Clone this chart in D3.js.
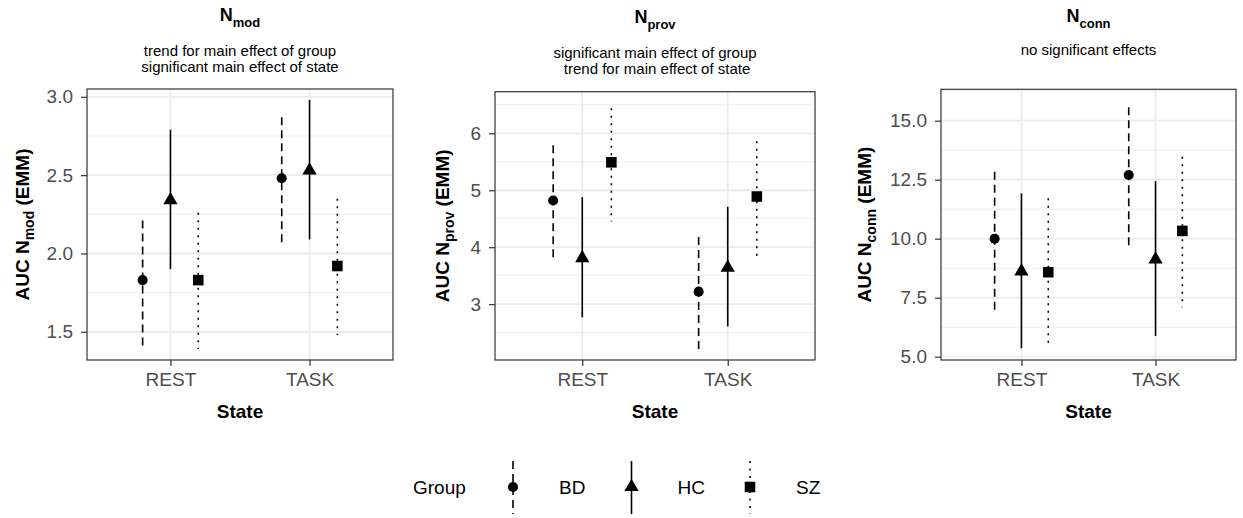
<!DOCTYPE html>
<html>
<head>
<meta charset="utf-8">
<script src="https://cdn.jsdelivr.net/npm/d3@7"></script>
<style>
  html, body { margin: 0; padding: 0; background: #ffffff; }
  svg { display: block; }
  text { font-family: "Liberation Sans", Arial, Helvetica, sans-serif; }
</style>
</head>
<body>
<svg id="chart" width="1243" height="518"></svg>
<script>
// ---------------- data ----------------
const states = ["REST", "TASK"];
const groups = ["BD", "HC", "SZ"];
// order of rows: REST-BD, REST-HC, REST-SZ, TASK-BD, TASK-HC, TASK-SZ
const nmodEmm   = [1.83, 2.34, 1.83, 2.48, 2.53, 1.92];
const nmodLower = [1.40, 1.90, 1.39, 2.05, 2.09, 1.48];
const nmodUpper = [2.21, 2.79, 2.26, 2.87, 2.98, 2.35];

const nprovEmm   = [4.82, 3.81, 5.49, 3.22, 3.64, 4.89];
const nprovLower = [3.82, 2.77, 4.45, 2.21, 2.61, 3.85];
const nprovUpper = [5.79, 4.88, 6.44, 4.18, 4.71, 5.86];

const nconnEmm   = [10.00, 8.62, 8.58, 12.70, 9.12, 10.33];
const nconnLower = [6.86, 5.36, 5.36, 9.59, 5.88, 7.09];
const nconnUpper = [12.84, 11.92, 11.71, 15.57, 12.44, 13.47];

const nmodTicks  = [1.5, 2.0, 2.5, 3.0];
const nprovTicks = [3, 4, 5, 6];
const nconnTicks = [5.0, 7.5, 10.0, 12.5, 15.0];

const panelSubs = ["mod", "prov", "conn"];
const subtitles = [
  ["trend for main effect of group", "significant main effect of state"],
  ["significant main effect of group", " trend for main effect of state"],
  ["no significant effects"]
];

// ---------------- layout / style ----------------
const panels = [
  { sub: panelSubs[0], subtitle: subtitles[0], emm: nmodEmm, lo: nmodLower, hi: nmodUpper,
    ticks: nmodTicks, fmt: d3.format(".1f"), domain: [1.32, 3.05],
    x0: 87, x1: 393, y0: 89, y1: 360, titleY: 21, subY: 55.5, yTitleX: 22 },
  { sub: panelSubs[1], subtitle: subtitles[1], emm: nprovEmm, lo: nprovLower, hi: nprovUpper,
    ticks: nprovTicks, fmt: d3.format("d"), domain: [2.02, 6.73],
    x0: 495, x1: 815, y0: 91.7, y1: 360, titleY: 23, subY: 58, yTitleX: 442 },
  { sub: panelSubs[2], subtitle: subtitles[2], emm: nconnEmm, lo: nconnLower, hi: nconnUpper,
    ticks: nconnTicks, fmt: d3.format(".1f"), domain: [4.86, 16.33],
    x0: 941, x1: 1236, y0: 89.3, y1: 360, titleY: 21.5, subY: 55, yTitleX: 864 }
];

const dash = { BD: "8,5", HC: null, SZ: "2,5.5" };
const shape = { BD: d3.symbolCircle, HC: d3.symbolTriangle, SZ: d3.symbolSquare };
const shapeSize = { BD: 80, HC: 88, SZ: 112 };
const gridCol = "#EBEBEB";
const axisCol = "#333333";
const tickTextCol = "#4D4D4D";

const svg = d3.select("#chart");

panels.forEach(p => {
  const g = svg.append("g");
  const y = d3.scaleLinear().domain(p.domain).range([p.y1, p.y0]);
  const x = d3.scalePoint().domain(states).range([p.x0, p.x1]).padding(0.6);
  const step = x.step();
  const dodge = d3.scalePoint().domain(groups).range([-0.2 * step, 0.2 * step]);

  // minor grid
  const minors = [];
  const tstep = p.ticks[1] - p.ticks[0];
  for (let v = p.ticks[0] - tstep / 2; v <= p.domain[1]; v += tstep) {
    if (v >= p.domain[0]) minors.push(v);
  }
  g.selectAll(".minor").data(minors).enter().append("line")
    .attr("x1", p.x0).attr("x2", p.x1)
    .attr("y1", d => y(d)).attr("y2", d => y(d))
    .attr("stroke", gridCol).attr("stroke-width", 0.9);
  // major grid
  g.selectAll(".major").data(p.ticks).enter().append("line")
    .attr("x1", p.x0).attr("x2", p.x1)
    .attr("y1", d => y(d)).attr("y2", d => y(d))
    .attr("stroke", gridCol).attr("stroke-width", 1.8);
  g.selectAll(".vmajor").data(states).enter().append("line")
    .attr("x1", d => x(d)).attr("x2", d => x(d))
    .attr("y1", p.y0).attr("y2", p.y1)
    .attr("stroke", gridCol).attr("stroke-width", 1.8);

  // data rows
  const rows = [];
  states.forEach((s, si) => groups.forEach((gr, gi) => {
    const i = si * groups.length + gi;
    rows.push({ state: s, group: gr, emm: p.emm[i], lo: p.lo[i], hi: p.hi[i] });
  }));

  g.selectAll(".err").data(rows).enter().append("line")
    .attr("x1", d => x(d.state) + dodge(d.group))
    .attr("x2", d => x(d.state) + dodge(d.group))
    .attr("y1", d => y(d.hi)).attr("y2", d => y(d.lo))
    .attr("stroke", "#000").attr("stroke-width", 1.6)
    .attr("stroke-dasharray", d => dash[d.group]);

  g.selectAll(".pt").data(rows).enter().append("path")
    .attr("d", d => d3.symbol().type(shape[d.group]).size(shapeSize[d.group])())
    .attr("transform", d => `translate(${x(d.state) + dodge(d.group)},${y(d.emm)})`)
    .attr("fill", "#000");

  // border
  g.append("rect")
    .attr("x", p.x0).attr("y", p.y0)
    .attr("width", p.x1 - p.x0).attr("height", p.y1 - p.y0)
    .attr("fill", "none").attr("stroke", axisCol).attr("stroke-width", 1.2);

  // axes
  const ya = g.append("g").attr("transform", `translate(${p.x0},0)`)
    .call(d3.axisLeft(y).tickValues(p.ticks).tickFormat(p.fmt).tickSize(6).tickPadding(8));
  ya.select(".domain").remove();
  ya.selectAll(".tick line").attr("stroke", axisCol).attr("stroke-width", 1.2);
  ya.selectAll(".tick text").attr("fill", tickTextCol)
    .style("font-size", "19px").style("font-family", "'Liberation Sans', Arial, sans-serif");

  const xa = g.append("g").attr("transform", `translate(0,${p.y1})`)
    .call(d3.axisBottom(x).tickSize(6).tickPadding(7));
  xa.select(".domain").remove();
  xa.selectAll(".tick line").attr("stroke", axisCol).attr("stroke-width", 1.2);
  xa.selectAll(".tick text").attr("fill", tickTextCol)
    .style("font-size", "19px").style("font-family", "'Liberation Sans', Arial, sans-serif");

  const cx = (p.x0 + p.x1) / 2;
  // title
  const t = g.append("text").attr("x", cx).attr("y", p.titleY)
    .attr("text-anchor", "middle").attr("font-weight", "bold").attr("font-size", 18);
  t.append("tspan").text("N");
  t.append("tspan").attr("dy", 6).attr("font-size", 13).text(p.sub);

  // subtitle
  p.subtitle.forEach((line, i) => {
    g.append("text").attr("x", cx).attr("y", p.subY + i * 16)
      .attr("text-anchor", "middle").attr("font-size", 15).attr("fill", "#000")
      .style("white-space", "pre").text(line);
  });

  // x title
  g.append("text").attr("x", cx).attr("y", 418)
    .attr("text-anchor", "middle").attr("font-weight", "bold").attr("font-size", 19)
    .text("State");

  // y title
  const cy = (p.y0 + p.y1) / 2;
  const yt = g.append("text")
    .attr("transform", `translate(${p.yTitleX + 7},${cy}) rotate(-90)`)
    .attr("text-anchor", "middle").attr("font-weight", "bold").attr("font-size", 19);
  yt.append("tspan").text("AUC N");
  yt.append("tspan").attr("dy", 5).attr("font-size", 14).text(p.sub);
  yt.append("tspan").attr("dy", -5).text(" (EMM)");
});

// ---------------- legend ----------------
const leg = svg.append("g");
const legY = 487;
leg.append("text").attr("x", 413).attr("y", legY).attr("dy", "0.35em")
  .attr("font-size", 19).text("Group");
const keyX = d3.scalePoint().domain(groups).range([513, 750]);
groups.forEach(gr => {
  const kx = keyX(gr);
  leg.append("line").attr("x1", kx).attr("x2", kx).attr("y1", 461).attr("y2", 514)
    .attr("stroke", "#000").attr("stroke-width", 1.6)
    .attr("stroke-dasharray", dash[gr]);
  leg.append("path")
    .attr("d", d3.symbol().type(shape[gr]).size(shapeSize[gr])())
    .attr("transform", `translate(${kx},${legY})`).attr("fill", "#000");
  leg.append("text").attr("x", kx + 46).attr("y", legY).attr("dy", "0.35em")
    .attr("font-size", 19).text(gr);
});
</script>
</body>
</html>
